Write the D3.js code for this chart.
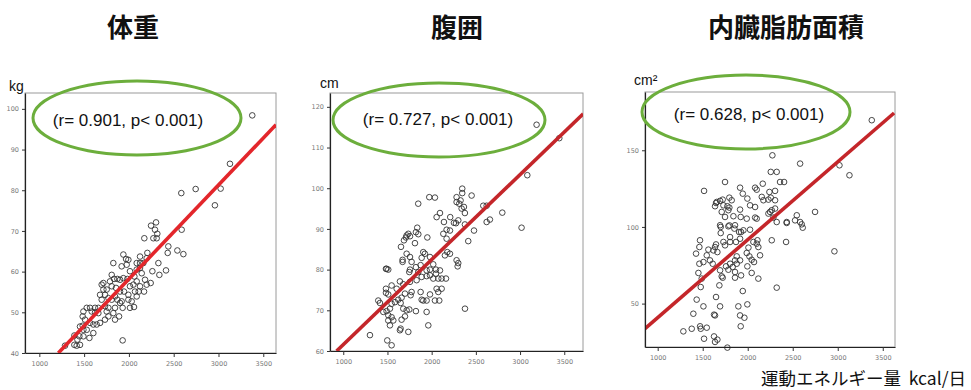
<!DOCTYPE html>
<html>

<head>
    <meta charset='utf-8'>
</head>
<style>
    body {
        margin: 0;
        background: #fff;
    }
    svg {
        display: block;
    }
    .title {
        font-family: 'Noto Sans CJK JP', sans-serif;
        font-weight: bold;
        font-size: 26px;
        fill: #111;
    }
    .unit {
        font-family: 'Liberation Sans', Arial, sans-serif;
        font-size: 14px;
        fill: #111;
    }
    .stat {
        font-family: 'Liberation Sans', Arial, sans-serif;
        font-size: 17px;
        fill: #111;
    }
    .axis text {
        font-family: 'DejaVu Sans', sans-serif;
        font-size: 6.5px;
        fill: #777;
    }
    .xlabel {
        font-family: 'Noto Sans CJK JP', sans-serif;
        font-size: 17.5px;
        fill: #111;
        white-space: pre;
    }
</style>

<body>
    <svg width="971" height="390"></svg>
    <script src="https://d3js.org/d3.v7.min.js"></script>
    <script>
        // titles, units and the r / p values written in each panel
        var titles = ["体重", "腹囲", "内臓脂肪面積"];
        var units = ["kg", "cm", "cm²"];
        var stats = ["(r= 0.901, p< 0.001)", "(r= 0.727, p< 0.001)", "(r= 0.628, p< 0.001)"];
        var xLabel = "運動エネルギー量  kcal/日";

        // tick values
        var xTicks = [1000, 1500, 2000, 2500, 3000, 3500];
        var weightTicks = [40, 50, 60, 70, 80, 90, 100];
        var waistTicks = [60, 70, 80, 90, 100, 110, 120];
        var vfaTicks = [50, 100, 150];

        // regression lines, two points each [kcal, value]
        var weightFit = [[1212, 40], [3642, 96.1]];
        var waistFit = [[925, 60], [3715, 118.3]];
        var vfaFit = [[859, 33.7], [3626, 174.3]];

        // [kcal/day, kg]
        var weightPoints = [
            [2247, 71.3], [2303, 72.1], [2291, 70.3], [2317, 69.3], [2273, 68.2], [2310, 68.2], [2172, 68.2],
            [2589, 70.3], [2440, 66.2], [2433, 64.6], [2541, 65.2], [2608, 64.3], [2206, 64.6], [2198, 63.3],
            [2124, 63.7], [2087, 62.1], [2124, 62.1], [2161, 62.1], [2329, 62.1], [2414, 60.3], [2262, 60.1],
            [2340, 59.2], [2124, 60.9], [2087, 60.5], [2143, 59.6], [2180, 58], [2087, 57.6], [2124, 56.4],
            [2109, 55.1], [2198, 56.8], [2243, 57.2], [2169, 55.1], [2061, 58.8], [2012, 60.1], [1975, 61.7],
            [1938, 64.2], [1968, 63.1], [1994, 62.9], [1826, 62.1], [1919, 61.3], [1808, 59.2], [1834, 58.2],
            [1871, 58.2], [1901, 58], [1938, 58.4], [1983, 58.2], [2012, 56.4], [2050, 56.8], [2068, 55.1],
            [2087, 53.9], [1994, 54.3], [1945, 55.1], [1901, 55.1], [1856, 56], [1808, 56.4], [1752, 55.6],
            [1715, 57.2], [1696, 56.8], [1733, 54.3], [1678, 54.3], [1696, 53.1], [1771, 53.5], [1808, 53.1],
            [1845, 53.9], [1871, 53.1], [1901, 52.3], [1919, 52.7], [1930, 51.1], [1994, 53.1], [2031, 52.7],
            [2057, 51.3], [2012, 51.1], [1845, 51.1], [1771, 51.1], [1733, 51.5], [1659, 51.1], [1622, 51.1],
            [1566, 51.1], [1529, 51.1], [1585, 50.2], [1622, 50], [1659, 49.8], [1752, 50.2], [1771, 49],
            [1826, 49.8], [1890, 49], [1845, 48.2], [1733, 48.2], [1678, 47.4], [1640, 47], [1603, 47],
            [1566, 47.4], [1492, 50.2], [1484, 49], [1510, 48.2], [1484, 46.7], [1529, 45.7], [1492, 45.7],
            [1454, 46.5], [1603, 44.9], [1447, 44.1], [1391, 44.3], [1425, 43.3], [1454, 42.0], [1417, 41.8],
            [1391, 42], [1287, 41.8], [1930, 43.1], [1492, 44.1], [1559, 43.7], [1715, 55.6], [1789, 57.6],
            [3377, 98.4], [3128, 86.5], [2745, 80.3], [3024, 80.4], [2585, 79.3], [2960, 76.3]
        ];

        // [kcal/day, cm]
        var waistPoints = [
            [1837, 90.3], [1822, 89.2], [1849, 88.7], [1736, 88.8], [1755, 88.2], [1709, 87.9], [1687, 87.2],
            [1811, 86.5], [1951, 87.9], [1653, 85.6], [1717, 83.9], [1671, 82.4], [1671, 81.9], [1755, 83.1],
            [1773, 81.9], [1905, 84.3], [1924, 83.9], [1887, 82.9], [1981, 83.1], [2018, 81.3], [1875, 81.1],
            [1822, 80.6], [1755, 80], [1747, 79.4], [1849, 79.4], [1943, 79.8], [1981, 80], [2049, 80],
            [2094, 79.8], [2049, 79], [1981, 78.6], [2018, 77.8], [2075, 77.8], [2113, 77.8], [2162, 77.8],
            [1943, 78.4], [1887, 78.2], [1830, 77.4], [1755, 77], [1641, 77.1], [1679, 76.4], [1604, 75.3],
            [1547, 76.1], [1490, 80.2], [1509, 80], [1483, 75.3], [1483, 74.3], [1509, 73.9], [1396, 72.4],
            [1415, 71.8], [1453, 69.6], [1490, 69.8], [1547, 71.6], [1585, 72], [1622, 72.6], [1660, 73.1],
            [1698, 74.1], [1649, 71.8], [1679, 70.4], [1717, 70], [1747, 70.2], [1822, 69.8], [1773, 74.5],
            [1762, 73.7], [1875, 74.5], [1905, 72.4], [1943, 72.4], [1887, 72.6], [1981, 73.9], [2037, 72.4],
            [2086, 72.4], [2075, 74.5], [2113, 75.3], [1943, 69.6], [1962, 66.3], [2056, 75.3], [1528, 70.4],
            [1509, 68.8], [1547, 68.3], [1509, 67.5], [1566, 67.5], [1660, 67.7], [1698, 68.5], [1649, 65.5],
            [1641, 65.1], [1736, 64.7], [1528, 66.3], [1302, 63.9], [1498, 62.6], [1547, 61.4], [2377, 70.4],
            [2139, 91.7], [2169, 89.8], [2207, 89.6], [2275, 91.4], [2301, 92.1], [2479, 89.6], [2622, 91.7],
            [2414, 87], [2177, 84.3], [2207, 83.9], [2150, 83.5], [2282, 82.3], [2294, 80.8], [2301, 81.6],
            [1483, 80.2], [2132, 88.8], [2169, 87.6], [1717, 88.4],
            [3187, 115.6], [3444, 112.3], [3082, 103.2], [3017, 90.3], [2799, 94], [2659, 92.3], [2584, 95.7],
            [2622, 95.7], [2452, 98.2], [2346, 99.9], [2346, 98.8], [2282, 97.8], [2327, 97], [2312, 96.2],
            [2282, 96.6], [2365, 95.4], [2339, 95], [2376, 93.9], [1973, 97.8], [2037, 97.7], [1848, 96.2],
            [2056, 92.9], [2094, 93.9], [2210, 92.9], [2252, 91.5], [2376, 91.1]
        ];

        // [kcal/day, cm2]
        var vfaPoints = [
            [3378, 169.6], [3019, 140.2], [3130, 133.7], [2748, 109.8], [2582, 141.3], [2274, 146.7], [2256, 135.9],
            [2322, 135.9], [2359, 129.3], [2404, 129.3], [2167, 128.2], [2082, 125.6], [2100, 124.3], [1915, 125.6],
            [1945, 121.7], [1748, 129.3], [1515, 123.5], [1996, 118.5], [1796, 119.1], [1722, 117.8], [1822, 117.4],
            [1656, 116.3], [1693, 117], [1774, 113.5], [1785, 110.9], [1730, 114.1], [1648, 115.6], [1915, 111.3],
            [2026, 114.1], [2082, 113], [2156, 119.6], [2241, 122.8], [2304, 123.5], [2256, 119.1], [2304, 117.4],
            [2174, 117.4], [2230, 117.8], [2267, 110.9], [2304, 112], [2230, 108.7], [2285, 106.1], [2545, 107.6],
            [2526, 104.3], [2600, 101.7], [2100, 105.4], [2082, 106.1], [2433, 102.6], [1748, 106.5], [1841, 107],
            [1922, 106.5], [1989, 105.4], [1711, 109.8], [1796, 112.6], [1637, 113.5], [2248, 109.8], [1693, 101.1],
            [1785, 100.4], [1859, 101.1],
            [1700, 100], [1700, 96], [1796, 101.0], [1852, 98.9], [1904, 96.7], [1926, 96.7], [1952, 97.8],
            [2026, 98.2], [1915, 92.3], [1870, 90.2], [1804, 93.4], [1748, 88], [1730, 90.2], [1648, 88.6],
            [1637, 86.9], [1663, 83.6], [1619, 84.7], [1563, 85.2], [1545, 81.5], [1581, 78.2], [1611, 76],
            [1508, 77.1], [1463, 76], [1452, 70], [1489, 66.3], [1478, 60.8], [1433, 52.6], [1508, 48.2],
            [1396, 43.4], [1285, 31.9], [1378, 33.6], [1471, 35.2], [1478, 33.6], [1545, 34.3], [1515, 27.1],
            [1626, 28.6], [1663, 26.5], [1637, 25], [1626, 42.8], [1637, 42.3], [1774, 21.3], [1693, 48.2],
            [1648, 54.3], [1711, 67.8], [1722, 66.9], [1685, 61.9], [1693, 71.7], [1785, 72.1], [1759, 74.3],
            [1804, 76], [1859, 78.2], [1878, 80.8], [1859, 70.6], [1926, 68.4], [1859, 66.9], [1945, 58.2],
            [1896, 48.2], [1915, 42.3], [1963, 40.8], [1922, 35.2], [1996, 49.5], [1989, 83], [2019, 80.8],
            [2044, 78.6], [1996, 74.3], [2044, 70], [2118, 66.3], [2070, 77.1], [2008, 86.5], [2063, 90.2],
            [2100, 89.1], [2118, 86.9], [2137, 81.5], [2108, 91.3], [2267, 91.3], [2322, 103.2], [2433, 103.2],
            [2426, 90.2], [2582, 103.2], [2611, 99.5], [2322, 60.4], [1804, 90.2], [1426, 82.6], [1470, 91.3],
            [1463, 86.9], [1878, 76], [1915, 78.2], [1833, 73.9], [2963, 84.1]
        ];

        var panels = [{
            title: titles[0], unit: units[0], stat: stats[0], points: weightPoints,
            yTicks: weightTicks, fit: weightFit, xDomain: [840, 3642], yDomain: [40, 103.9],
            left: 25, right: 276, top: 93, bottom: 353, titleX: 133,
            ell: [137, 118, 104, 37], statX: 128, statY: 126, unitX: 9, unitY: 91, red: '#e3262b'
        }, {
            title: titles[1], unit: units[1], stat: stats[1], points: waistPoints,
            yTicks: waistTicks, fit: waistFit, xDomain: [850, 3712], yDomain: [60, 123.4],
            left: 330, right: 583, top: 93, bottom: 351, titleX: 457,
            ell: [439, 120, 106, 37], statX: 438, statY: 125, unitX: 320, unitY: 88, red: '#c4262a'
        }, {
            title: titles[2], unit: units[2], stat: stats[2], points: vfaPoints,
            yTicks: vfaTicks, fit: vfaFit, xDomain: [859, 3636], yDomain: [21.7, 188],
            left: 645, right: 895, top: 92, bottom: 347, titleX: 786,
            ell: [746, 112, 104, 37], statX: 749, statY: 120, unitX: 634, unitY: 85, red: '#c4262a'
        }];

        var svg = d3.select('svg');
        svg.append('rect').attr('width', 971).attr('height', 390).attr('fill', '#fff');

        panels.forEach(function(p, i) {
            var x = d3.scaleLinear().domain(p.xDomain).range([p.left, p.right]);
            var y = d3.scaleLinear().domain(p.yDomain).range([p.bottom, p.top]);
            var g = svg.append('g');

            g.append('text').attr('class', 'title')
                .attr('x', p.titleX).attr('y', 37)
                .attr('text-anchor', 'middle')
                .text(p.title);

            // light frame for top / right
            g.append('rect')
                .attr('x', p.left).attr('y', p.top)
                .attr('width', p.right - p.left).attr('height', p.bottom - p.top)
                .attr('fill', 'none').attr('stroke', '#9a9a9a').attr('stroke-width', 1);

            var clipId = 'clip' + i;
            g.append('clipPath').attr('id', clipId)
                .append('rect')
                .attr('x', p.left).attr('y', p.top)
                .attr('width', p.right - p.left).attr('height', p.bottom - p.top);

            // the points
            g.append('g')
                .selectAll('circle')
                .data(p.points)
                .enter().append('circle')
                .attr('cx', function(d) { return x(d[0]); })
                .attr('cy', function(d) { return y(d[1]); })
                .attr('r', 2.8)
                .attr('fill', 'none')
                .attr('stroke', '#333')
                .attr('stroke-width', 0.9);

            // regression line
            g.append('line')
                .attr('clip-path', 'url(#' + clipId + ')')
                .attr('x1', x(p.fit[0][0])).attr('y1', y(p.fit[0][1]))
                .attr('x2', x(p.fit[1][0])).attr('y2', y(p.fit[1][1]))
                .attr('stroke', p.red)
                .attr('stroke-width', 3.6);

            // axes
            var xAxis = g.append('g').attr('class', 'axis')
                .attr('transform', 'translate(0,' + p.bottom + ')')
                .call(d3.axisBottom(x).tickValues(xTicks).tickFormat(d3.format('d'))
                    .tickSize(4).tickSizeOuter(0).tickPadding(4));
            var yAxis = g.append('g').attr('class', 'axis')
                .attr('transform', 'translate(' + p.left + ',0)')
                .call(d3.axisLeft(y).tickValues(p.yTicks).tickFormat(d3.format('d'))
                    .tickSize(3).tickSizeOuter(0).tickPadding(3));
            [xAxis, yAxis].forEach(function(a) {
                a.select('.domain').attr('stroke', '#222').attr('stroke-width', 1.2);
                a.selectAll('.tick line').attr('stroke', '#333');
            });

            // unit label
            g.append('text').attr('class', 'unit')
                .attr('x', p.unitX).attr('y', p.unitY)
                .text(p.unit);

            // green ellipse with r / p
            g.append('ellipse')
                .attr('cx', p.ell[0]).attr('cy', p.ell[1])
                .attr('rx', p.ell[2]).attr('ry', p.ell[3])
                .attr('fill', 'none')
                .attr('stroke', '#6cae3c')
                .attr('stroke-width', 3);
            g.append('text').attr('class', 'stat')
                .attr('x', p.statX).attr('y', p.statY)
                .attr('text-anchor', 'middle')
                .text(p.stat);
        });

        svg.append('text').attr('class', 'xlabel')
            .attr('x', 966).attr('y', 385)
            .attr('text-anchor', 'end')
            .text(xLabel);
    </script>
</body>

</html>
